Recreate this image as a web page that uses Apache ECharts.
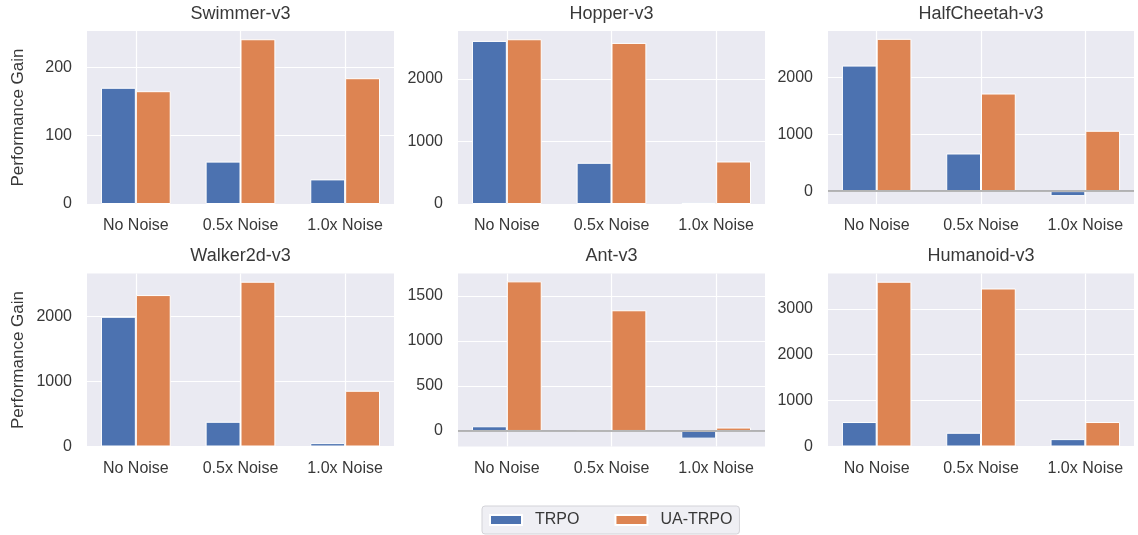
<!DOCTYPE html>
<html>
<head>
<meta charset="utf-8">
<script src="https://cdn.jsdelivr.net/npm/echarts@6/dist/echarts.min.js"></script>
<style>
html,body{margin:0;padding:0;background:#fff;}
#chart{width:1138px;height:535px;}
</style>
</head>
<body>
<div id="chart"></div>
<script>
// ---- data ----
const categories = ['No Noise', '0.5x Noise', '1.0x Noise'];
const seriesNames = ['TRPO', 'UA-TRPO'];
const envNames = ['Swimmer-v3', 'Hopper-v3', 'HalfCheetah-v3', 'Walker2d-v3', 'Ant-v3', 'Humanoid-v3'];

const swimmerTRPO = [170, 62, 36];
const swimmerUA = [165, 241, 184];
const hopperTRPO = [2605, 658, 26];
const hopperUA = [2632, 2573, 679];
const halfCheetahTRPO = [2205, 661, -88];
const halfCheetahUA = [2674, 1714, 1060];
const walkerTRPO = [1995, 380, 52];
const walkerUA = [2329, 2534, 857];
const antTRPO = [52, 0, -85];
const antUA = [1661, 1340, 38];
const humanoidTRPO = [533, 299, 161];
const humanoidUA = [3590, 3443, 533];

const swimmerTicks = [0, 100, 200];
const hopperTicks = [0, 1000, 2000];
const halfCheetahTicks = [0, 1000, 2000];
const walkerTicks = [0, 1000, 2000];
const antTicks = [0, 500, 1000, 1500];
const humanoidTicks = [0, 1000, 2000, 3000];

const panelTRPO = [swimmerTRPO, hopperTRPO, halfCheetahTRPO, walkerTRPO, antTRPO, humanoidTRPO];
const panelUA = [swimmerUA, hopperUA, halfCheetahUA, walkerUA, antUA, humanoidUA];
const panelTicks = [swimmerTicks, hopperTicks, halfCheetahTicks, walkerTicks, antTicks, humanoidTicks];

// ---- style / layout ----
const FONT = 'Liberation Sans, Arial, sans-serif';
const TXT = '#383838';
const BG = '#EAEAF2';
const colors = ['#4C72B0', '#DD8452'];
const colLeft = [87, 458, 828];
const colWidth = [307, 307, 306];
const rowTop = [31, 273.5];
const rowHeight = [173, 173];
const titleTop = [5, 247];

const grids = [], xAxes = [], yAxes = [], series = [], titles = [];

for (let p = 0; p < 6; p++) {
  const r = Math.floor(p / 3), c = p % 3;
  grids.push({
    left: colLeft[c], top: rowTop[r], width: colWidth[c], height: rowHeight[r],
    show: true, backgroundColor: BG, borderWidth: 0, containLabel: false
  });
  titles.push({
    text: envNames[p], left: colLeft[c] + colWidth[c] / 2, top: titleTop[r],
    textAlign: 'center', padding: 0,
    textStyle: { fontFamily: FONT, fontSize: 18, fontWeight: 'normal', color: TXT }
  });
  xAxes.push({
    type: 'value', gridIndex: p, min: -0.4667, max: 2.4667,
    axisLine: { show: false },
    axisTick: { show: false, customValues: [0, 1, 2] },
    axisLabel: {
      customValues: [0, 1, 2], margin: 14,
      fontFamily: FONT, fontSize: 16, color: TXT,
      formatter: v => categories[Math.round(v)]
    },
    splitLine: { show: true, lineStyle: { color: '#ffffff', width: 1.2 } }
  });
  const all = panelTRPO[p].concat(panelUA[p]);
  let lo = Math.min(0, Math.min.apply(null, all));
  let hi = Math.max.apply(null, all);
  const pad = 0.05 * (hi - lo);
  if (lo < 0) lo -= pad;
  hi += pad;
  yAxes.push({
    type: 'value', gridIndex: p, min: lo, max: hi,
    axisLine: { show: false },
    axisTick: { show: false, customValues: panelTicks[p] },
    axisLabel: {
      customValues: panelTicks[p], margin: 15, fontFamily: FONT, fontSize: 16, color: TXT,
      formatter: v => String(Math.round(v))
    },
    splitLine: { show: true, lineStyle: { color: '#ffffff', width: 1.2 } },
    name: c === 0 ? 'Performance Gain' : '',
    nameLocation: 'middle', nameRotate: 90, nameGap: 60,
    nameTextStyle: { fontFamily: FONT, fontSize: 17, color: TXT }
  });
  const sets = [panelTRPO[p], panelUA[p]];
  for (let s = 0; s < 2; s++) {
    const ser = {
      type: 'bar', name: seriesNames[s], xAxisIndex: p, yAxisIndex: p,
      data: sets[s].map((v, i) => [i, v]),
      barWidth: '33.33%', barGap: '0%',
      itemStyle: { color: colors[s], borderColor: '#ffffff', borderWidth: 1 },
      emphasis: { disabled: true }
    };
    if (s === 0 && lo < 0) {
      ser.markLine = {
        silent: true, symbol: 'none', z: 10,
        label: { show: false },
        lineStyle: { color: '#9E9E9E', width: 1.6, type: 'solid' },
        data: [{ yAxis: 0 }]
      };
    }
    series.push(ser);
  }
}

const chart = echarts.init(document.getElementById('chart'), null, { renderer: 'canvas' });
chart.setOption({
  animation: false,
  backgroundColor: '#ffffff',
  title: titles,
  grid: grids,
  xAxis: xAxes,
  yAxis: yAxes,
  series: series,
  legend: {
    data: seriesNames,
    left: 482, top: 506,
    orient: 'horizontal',
    itemWidth: 32, itemHeight: 10, itemGap: 35,
    padding: [6, 7, 6, 7],
    backgroundColor: '#EFEFF4',
    borderColor: '#D3D3D8', borderWidth: 1, borderRadius: 3,
    icon: 'rect',
    textStyle: { fontFamily: FONT, fontSize: 16, color: TXT, padding: [0, 0, 0, 8] }
  }
});
</script>
</body>
</html>
